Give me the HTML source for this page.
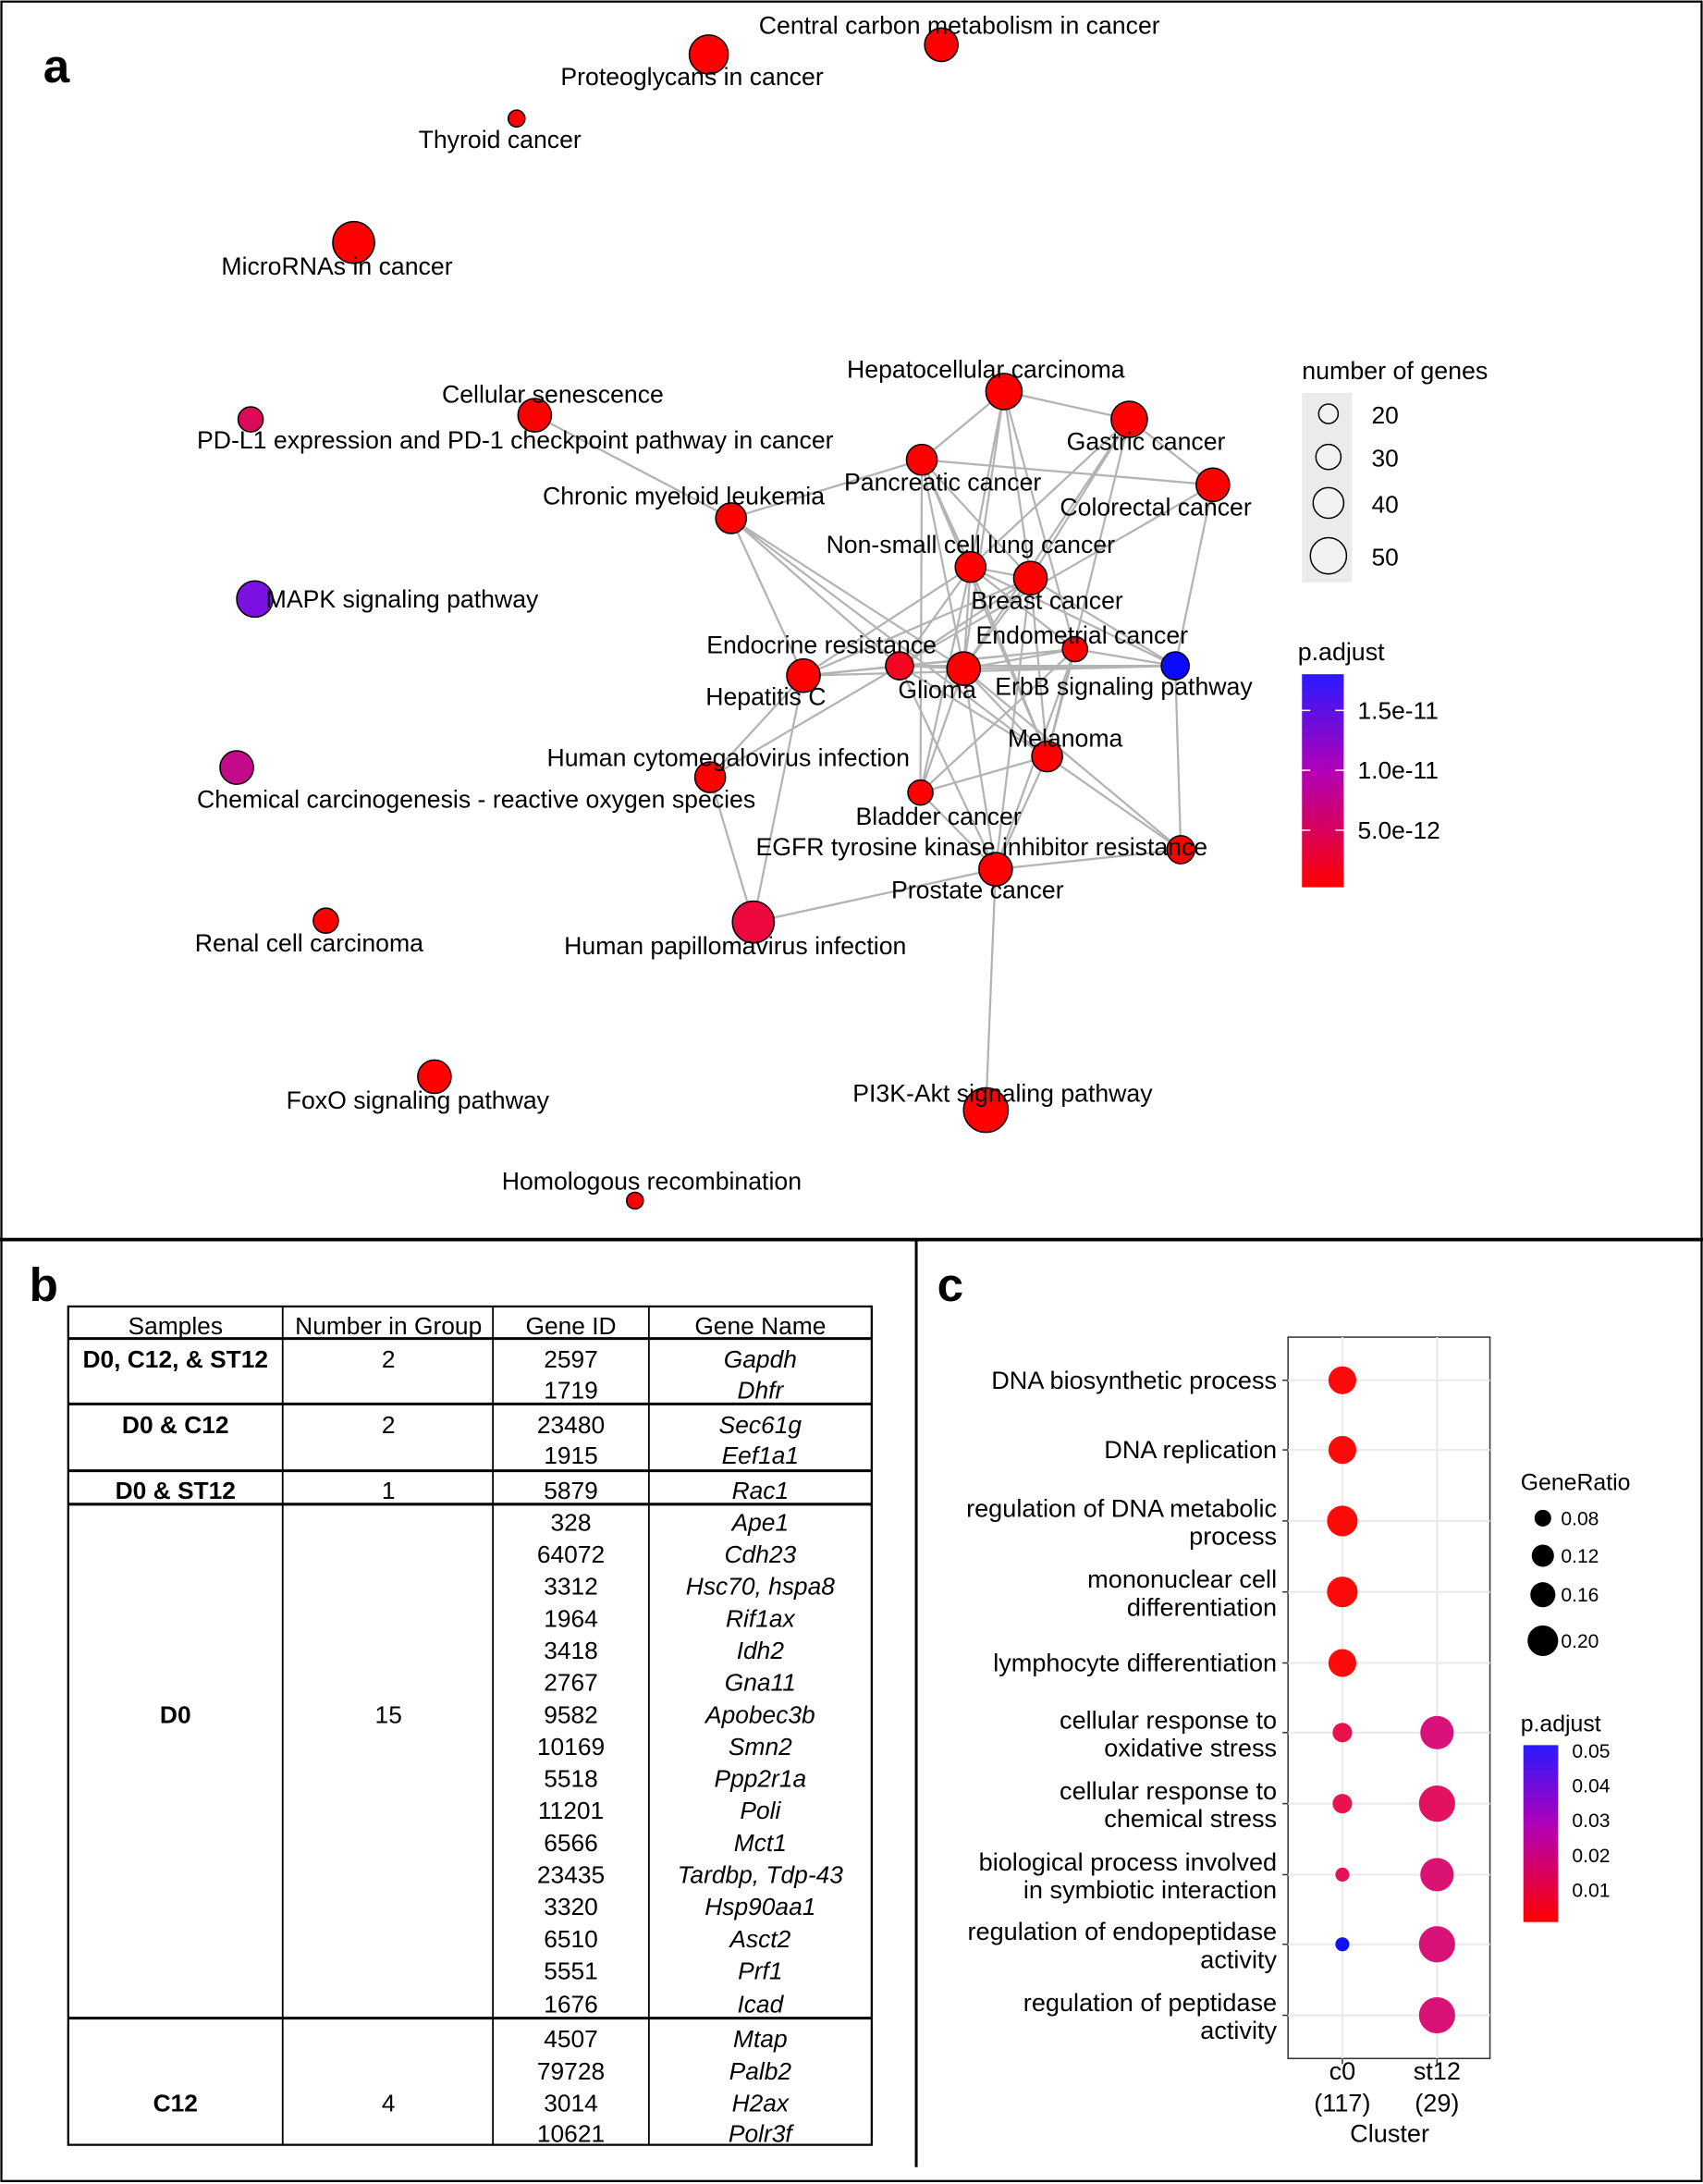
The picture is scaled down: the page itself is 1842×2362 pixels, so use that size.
<!DOCTYPE html>
<html><head><meta charset="utf-8"><style>
html,body{margin:0;padding:0;background:#fff}
svg{display:block}
text{font-family:"Liberation Sans",Arial,sans-serif;fill:#000}
</style></head><body>
<svg width="1842" height="2362" viewBox="0 0 1223 1568" xmlns="http://www.w3.org/2000/svg">
<defs>
<linearGradient id="g1" x1="0" y1="0" x2="0" y2="1"><stop offset="0" stop-color="#2a1aff"/><stop offset="0.45" stop-color="#b000b8"/><stop offset="1" stop-color="#ff0000"/></linearGradient>
</defs>
<rect x="1" y="1" width="1221" height="1565" fill="#fff" stroke="#000" stroke-width="1.5"/>
<line x1="0" y1="890" x2="1223" y2="890" stroke="#000" stroke-width="2.5"/>
<line x1="658" y1="890" x2="658" y2="1556" stroke="#000" stroke-width="2"/>

<!-- Panel a -->
<text x="31" y="59" font-size="34" font-weight="bold">a</text>
<g stroke="#b3b3b3" stroke-width="1.5" fill="none">
<path d="M384 298L525 372M525 372L662 330M525 372L577 485M525 372L692 480M525 372L752 543M525 372L646 478
M721 281L811 301M721 281L662 330M721 281L697 407M721 281L740 415M721 281L692 480M721 281L772 466
M811 301L871 348M811 301L697 407M811 301L692 480M811 301L752 543M811 301L740 415
M662 330L871 348M662 330L697 407M662 330L692 480M662 330L661 569M662 330L752 543M662 330L740 415
M871 348L844 478M871 348L646 478
M697 407L740 415M697 407L577 485M697 407L646 478M697 407L692 480M697 407L772 466M697 407L752 543M697 407L661 569M697 407L844 478
M740 415L577 485M740 415L646 478M740 415L692 480M740 415L752 543M740 415L715 624M740 415L844 478
M646 478L577 485M646 478L692 480M646 478L772 466M646 478L844 478M646 478L510 558M646 478L752 543
M577 485L772 466M577 485L844 478M577 485L510 558M577 485L541 662
M692 480L772 466M692 480L844 478M692 480L752 543M692 480L661 569M692 480L715 624M692 480L848 610
M772 466L752 543M772 466L661 569M772 466L715 624M844 478L848 610M772 466L844 478
M752 543L661 569M752 543L715 624M752 543L848 610M661 569L715 624M646 478L715 624
M510 558L541 662M541 662L715 624M715 624L848 610M715 624L708 797"/>
</g>
<g stroke="#000" stroke-width="1">
<circle cx="676" cy="32" r="12" fill="#ff0000"/>
<circle cx="509" cy="39" r="14" fill="#ff0000"/>
<circle cx="371" cy="85" r="6" fill="#ff0000"/>
<circle cx="254" cy="174" r="15" fill="#ff0000"/>
<circle cx="721" cy="281" r="13" fill="#ff0000"/>
<circle cx="811" cy="301" r="13" fill="#ff0000"/>
<circle cx="384" cy="298" r="12" fill="#ff0000"/>
<circle cx="180" cy="301" r="9" fill="#dd0a5a"/>
<circle cx="662" cy="330" r="11" fill="#ff0000"/>
<circle cx="871" cy="348" r="12" fill="#ff0000"/>
<circle cx="525" cy="372" r="11" fill="#ff0000"/>
<circle cx="697" cy="407" r="11" fill="#ff0000"/>
<circle cx="740" cy="415" r="12" fill="#ff0000"/>
<circle cx="183" cy="430" r="13" fill="#7b10e0"/>
<circle cx="646" cy="478" r="10" fill="#f5051f"/>
<circle cx="772" cy="466" r="9" fill="#ff0000"/>
<circle cx="844" cy="478" r="10" fill="#0a0aff"/>
<circle cx="577" cy="485" r="12" fill="#ff0000"/>
<circle cx="692" cy="480" r="12" fill="#ff0000"/>
<circle cx="752" cy="543" r="11" fill="#ff0000"/>
<circle cx="510" cy="558" r="11" fill="#ff0000"/>
<circle cx="170" cy="551" r="12" fill="#c40a8a"/>
<circle cx="661" cy="569" r="9" fill="#ff0000"/>
<circle cx="848" cy="610" r="10" fill="#ff0000"/>
<circle cx="715" cy="624" r="12" fill="#ff0000"/>
<circle cx="541" cy="662" r="15" fill="#ee0840"/>
<circle cx="234" cy="661" r="9" fill="#ff0000"/>
<circle cx="312" cy="773" r="12" fill="#ff0000"/>
<circle cx="708" cy="797" r="16" fill="#ff0000"/>
<circle cx="456" cy="862" r="6" fill="#ff0000"/>
</g>
<g font-size="17.7" text-anchor="middle">
<text x="689" y="24">Central carbon metabolism in cancer</text>
<text x="497" y="61">Proteoglycans in cancer</text>
<text x="359" y="106">Thyroid cancer</text>
<text x="242" y="197">MicroRNAs in cancer</text>
<text x="708" y="271">Hepatocellular carcinoma</text>
<text x="823" y="323">Gastric cancer</text>
<text x="397" y="289">Cellular senescence</text>
<text x="370" y="322">PD-L1 expression and PD-1 checkpoint pathway in cancer</text>
<text x="677" y="352">Pancreatic cancer</text>
<text x="830" y="370">Colorectal cancer</text>
<text x="491" y="362">Chronic myeloid leukemia</text>
<text x="697" y="397">Non-small cell lung cancer</text>
<text x="752" y="437">Breast cancer</text>
<text x="191" y="436" text-anchor="start">MAPK signaling pathway</text>
<text x="590" y="469">Endocrine resistance</text>
<text x="777" y="462">Endometrial cancer</text>
<text x="807" y="499">ErbB signaling pathway</text>
<text x="550" y="506">Hepatitis C</text>
<text x="673" y="501">Glioma</text>
<text x="765" y="536">Melanoma</text>
<text x="523" y="550">Human cytomegalovirus infection</text>
<text x="342" y="580">Chemical carcinogenesis - reactive oxygen species</text>
<text x="674" y="592">Bladder cancer</text>
<text x="705" y="614">EGFR tyrosine kinase inhibitor resistance</text>
<text x="702" y="645">Prostate cancer</text>
<text x="528" y="685">Human papillomavirus infection</text>
<text x="222" y="683">Renal cell carcinoma</text>
<text x="300" y="796">FoxO signaling pathway</text>
<text x="720" y="791">PI3K-Akt signaling pathway</text>
<text x="468" y="854">Homologous recombination</text>
</g>
<!-- legend a -->
<text x="935" y="272" font-size="17.8">number of genes</text>
<rect x="935" y="282" width="36" height="136" fill="#ebebeb"/>
<g fill="#f2f2f2" stroke="#000" stroke-width="1">
<circle cx="954" cy="297" r="7"/><circle cx="954" cy="328" r="9"/><circle cx="954" cy="361" r="11"/><circle cx="954" cy="399" r="13"/>
</g>
<g font-size="17.5"><text x="985" y="304">20</text><text x="985" y="335">30</text><text x="985" y="368">40</text><text x="985" y="406">50</text></g>
<text x="932" y="474" font-size="17.8">p.adjust</text>
<rect x="935" y="484" width="30" height="153" fill="url(#g1)"/>
<g stroke="#fff" stroke-width="1"><line x1="935" y1="510" x2="941" y2="510"/><line x1="959" y1="510" x2="965" y2="510"/><line x1="935" y1="553" x2="941" y2="553"/><line x1="959" y1="553" x2="965" y2="553"/><line x1="935" y1="596" x2="941" y2="596"/><line x1="959" y1="596" x2="965" y2="596"/></g>
<g font-size="17.5"><text x="975" y="516">1.5e-11</text><text x="975" y="559">1.0e-11</text><text x="975" y="602">5.0e-12</text></g>

<!-- Panel b -->
<text x="21" y="934" font-size="34" font-weight="bold">b</text>
<g stroke="#000" fill="none">
<rect x="49" y="938" width="577" height="602" stroke-width="1.5"/>
<line x1="49" y1="961" x2="626" y2="961" stroke-width="2"/>
<line x1="49" y1="1008" x2="626" y2="1008" stroke-width="2"/>
<line x1="49" y1="1056" x2="626" y2="1056" stroke-width="2"/>
<line x1="49" y1="1080" x2="626" y2="1080" stroke-width="2"/>
<line x1="49" y1="1449" x2="626" y2="1449" stroke-width="2"/>
<line x1="203" y1="938" x2="203" y2="1540" stroke-width="1.2"/>
<line x1="354" y1="938" x2="354" y2="1540" stroke-width="1.2"/>
<line x1="466" y1="938" x2="466" y2="1540" stroke-width="1.2"/>
</g>
<g font-size="17.5" text-anchor="middle">
<text x="126" y="958">Samples</text><text x="279" y="958">Number in Group</text><text x="410" y="958">Gene ID</text><text x="546" y="958">Gene Name</text>
<g font-weight="bold">
<text x="126" y="982">D0, C12, &amp; ST12</text><text x="126" y="1029">D0 &amp; C12</text><text x="126" y="1076">D0 &amp; ST12</text><text x="126" y="1237">D0</text><text x="126" y="1516">C12</text>
</g>
<text x="279" y="982">2</text><text x="279" y="1029">2</text><text x="279" y="1076">1</text><text x="279" y="1237">15</text><text x="279" y="1516">4</text>
<text x="410" y="982">2597</text><text x="410" y="1004">1719</text><text x="410" y="1029">23480</text><text x="410" y="1051">1915</text><text x="410" y="1076">5879</text>
<text x="410" y="1099">328</text><text x="410" y="1122">64072</text><text x="410" y="1145">3312</text><text x="410" y="1168">1964</text><text x="410" y="1191">3418</text><text x="410" y="1214">2767</text><text x="410" y="1237">9582</text><text x="410" y="1260">10169</text><text x="410" y="1283">5518</text><text x="410" y="1306">11201</text><text x="410" y="1329">6566</text><text x="410" y="1352">23435</text><text x="410" y="1375">3320</text><text x="410" y="1398">6510</text><text x="410" y="1421">5551</text><text x="410" y="1445">1676</text>
<text x="410" y="1470">4507</text><text x="410" y="1493">79728</text><text x="410" y="1516">3014</text><text x="410" y="1538">10621</text>
<g font-style="italic">
<text x="546" y="982">Gapdh</text><text x="546" y="1004">Dhfr</text><text x="546" y="1029">Sec61g</text><text x="546" y="1051">Eef1a1</text><text x="546" y="1076">Rac1</text>
<text x="546" y="1099">Ape1</text><text x="546" y="1122">Cdh23</text><text x="546" y="1145">Hsc70, hspa8</text><text x="546" y="1168">Rif1ax</text><text x="546" y="1191">Idh2</text><text x="546" y="1214">Gna11</text><text x="546" y="1237">Apobec3b</text><text x="546" y="1260">Smn2</text><text x="546" y="1283">Ppp2r1a</text><text x="546" y="1306">Poli</text><text x="546" y="1329">Mct1</text><text x="546" y="1352">Tardbp, Tdp-43</text><text x="546" y="1375">Hsp90aa1</text><text x="546" y="1398">Asct2</text><text x="546" y="1421">Prf1</text><text x="546" y="1445">Icad</text>
<text x="546" y="1470">Mtap</text><text x="546" y="1493">Palb2</text><text x="546" y="1516">H2ax</text><text x="546" y="1538">Polr3f</text>
</g>
</g>

<!-- Panel c -->
<text x="673" y="934" font-size="34" font-weight="bold">c</text>
<rect x="925" y="960" width="145" height="518" fill="#fff" stroke="#333" stroke-width="1"/>
<g stroke="#ebebeb" stroke-width="1.5">
<line x1="964" y1="960" x2="964" y2="1478"/><line x1="1032" y1="960" x2="1032" y2="1478"/>
<line x1="925" y1="991" x2="1070" y2="991"/><line x1="925" y1="1041" x2="1070" y2="1041"/><line x1="925" y1="1092" x2="1070" y2="1092"/><line x1="925" y1="1143" x2="1070" y2="1143"/><line x1="925" y1="1194" x2="1070" y2="1194"/><line x1="925" y1="1244" x2="1070" y2="1244"/><line x1="925" y1="1295" x2="1070" y2="1295"/><line x1="925" y1="1346" x2="1070" y2="1346"/><line x1="925" y1="1396" x2="1070" y2="1396"/><line x1="925" y1="1447" x2="1070" y2="1447"/>
</g>
<g>
<circle cx="964" cy="991" r="10" fill="#ff0a0a"/>
<circle cx="964" cy="1041" r="10" fill="#ff0a0a"/>
<circle cx="964" cy="1092" r="11" fill="#ff0a0a"/>
<circle cx="964" cy="1143" r="11" fill="#ff0a0a"/>
<circle cx="964" cy="1194" r="10" fill="#ff0a0a"/>
<circle cx="964" cy="1244" r="7" fill="#e9124c"/>
<circle cx="964" cy="1295" r="7" fill="#e9124c"/>
<circle cx="964" cy="1346" r="5" fill="#e3125a"/>
<circle cx="964" cy="1396" r="5" fill="#1010f5"/>
<circle cx="1032" cy="1244" r="12" fill="#d8127a"/>
<circle cx="1032" cy="1295" r="13" fill="#e21260"/>
<circle cx="1032" cy="1346" r="12" fill="#da1272"/>
<circle cx="1032" cy="1396" r="13" fill="#d81276"/>
<circle cx="1032" cy="1447" r="13" fill="#d81276"/>
</g>
<g stroke="#333"><line x1="921" y1="991" x2="925" y2="991"/><line x1="921" y1="1041" x2="925" y2="1041"/><line x1="921" y1="1092" x2="925" y2="1092"/><line x1="921" y1="1143" x2="925" y2="1143"/><line x1="921" y1="1194" x2="925" y2="1194"/><line x1="921" y1="1244" x2="925" y2="1244"/><line x1="921" y1="1295" x2="925" y2="1295"/><line x1="921" y1="1346" x2="925" y2="1346"/><line x1="921" y1="1396" x2="925" y2="1396"/><line x1="921" y1="1447" x2="925" y2="1447"/><line x1="964" y1="1478" x2="964" y2="1482"/><line x1="1032" y1="1478" x2="1032" y2="1482"/></g>
<g font-size="18" text-anchor="end" fill="#1a1a1a">
<text x="917" y="997">DNA biosynthetic process</text>
<text x="917" y="1047">DNA replication</text>
<text x="917" y="1089">regulation of DNA metabolic</text><text x="917" y="1109">process</text>
<text x="917" y="1140">mononuclear cell</text><text x="917" y="1160">differentiation</text>
<text x="917" y="1200">lymphocyte differentiation</text>
<text x="917" y="1241">cellular response to</text><text x="917" y="1261">oxidative stress</text>
<text x="917" y="1292">cellular response to</text><text x="917" y="1312">chemical stress</text>
<text x="917" y="1343">biological process involved</text><text x="917" y="1363">in symbiotic interaction</text>
<text x="917" y="1393">regulation of endopeptidase</text><text x="917" y="1413">activity</text>
<text x="917" y="1444">regulation of peptidase</text><text x="917" y="1464">activity</text>
</g>
<g font-size="18" text-anchor="middle">
<text x="964" y="1493">c0</text><text x="964" y="1516">(117)</text>
<text x="1032" y="1493">st12</text><text x="1032" y="1516">(29)</text>
<text x="998" y="1538">Cluster</text>
</g>
<text x="1092" y="1070" font-size="16.5">GeneRatio</text>
<g fill="#000"><circle cx="1108" cy="1090" r="6"/><circle cx="1108" cy="1117" r="8"/><circle cx="1108" cy="1145" r="9"/><circle cx="1108" cy="1178" r="11"/></g>
<g font-size="14"><text x="1121" y="1095">0.08</text><text x="1121" y="1122">0.12</text><text x="1121" y="1150">0.16</text><text x="1121" y="1183">0.20</text></g>
<text x="1092" y="1243" font-size="16.5">p.adjust</text>
<rect x="1094" y="1253" width="25" height="127" fill="url(#g1)"/>
<g font-size="14"><text x="1129" y="1262">0.05</text><text x="1129" y="1287">0.04</text><text x="1129" y="1312">0.03</text><text x="1129" y="1337">0.02</text><text x="1129" y="1362">0.01</text></g>
</svg>
</body></html>
